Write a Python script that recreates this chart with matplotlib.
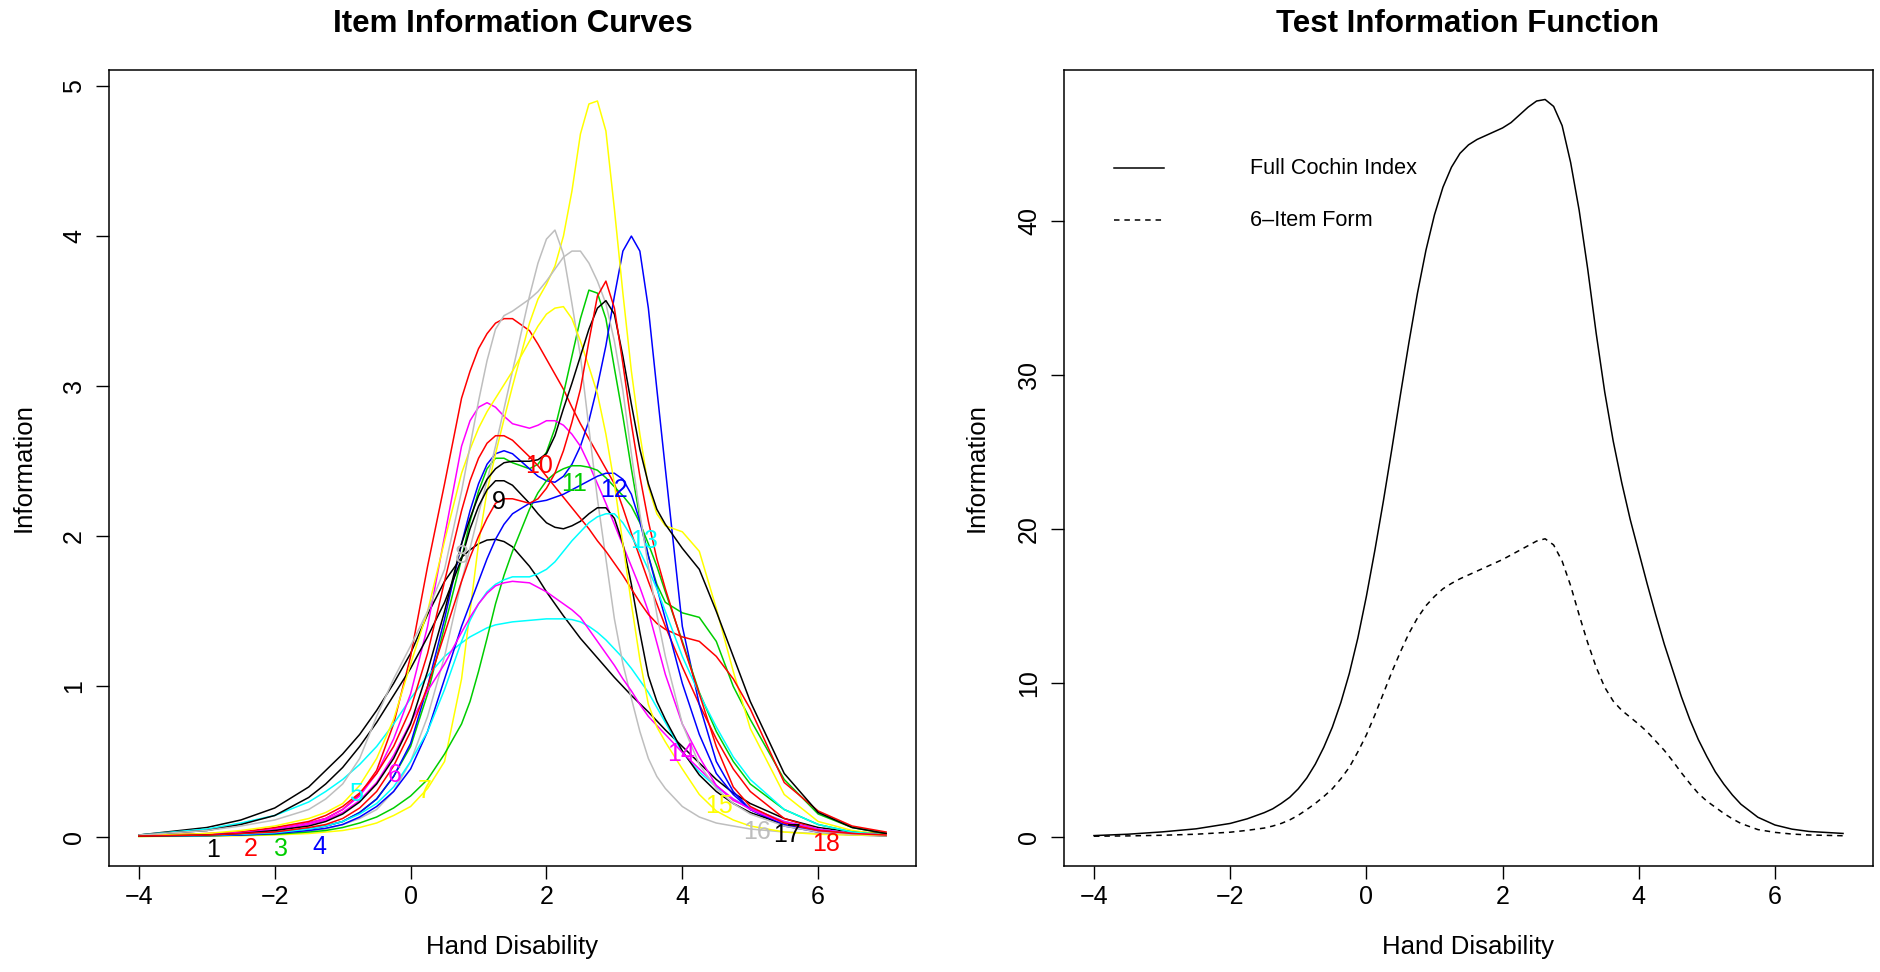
import matplotlib
matplotlib.use("Agg")
import matplotlib.pyplot as plt

plt.rcParams['font.family'] = ['Liberation Sans', 'DejaVu Sans']

# ---------------- data: item information curves ----------------
theta = [-4, -3, -2.5, -2,
         -1.5, -1.25, -1, -0.75, -0.5, -0.25,
         0, 0.25, 0.5, 0.75,
         0.875, 1, 1.125, 1.25, 1.375, 1.5,
         1.75, 1.875, 2, 2.125, 2.25, 2.375, 2.5, 2.625,
         2.75, 2.875, 3, 3.125, 3.25, 3.375, 3.5, 3.625, 3.75,
         4, 4.25, 4.5, 4.75,
         5, 5.5, 6, 6.5, 7]

item01 = [0.01, 0.06, 0.11, 0.19,
          0.33, 0.44, 0.55, 0.68, 0.84, 1.02,
          1.22, 1.48, 1.7, 1.86,
          1.91, 1.95, 1.975, 1.98, 1.965, 1.93,
          1.8, 1.72, 1.63, 1.55, 1.47, 1.395, 1.32, 1.255,
          1.19, 1.125, 1.06, 1.0, 0.94, 0.885, 0.83, 0.77, 0.71,
          0.6, 0.49, 0.38, 0.29,
          0.22, 0.12, 0.06, 0.03, 0.02]
item02 = [0.005, 0.015, 0.03, 0.05,
          0.09, 0.12, 0.18, 0.28, 0.44, 0.75,
          1.2, 1.8, 2.35, 2.92,
          3.1, 3.25, 3.35, 3.42, 3.45, 3.45,
          3.37, 3.28, 3.18, 3.08, 2.98, 2.86, 2.75, 2.65,
          2.55, 2.45, 2.35, 2.19, 2.02, 1.86, 1.7, 1.55, 1.4,
          1.13, 0.88, 0.65, 0.45,
          0.3, 0.12, 0.05, 0.02, 0.01]
item03 = [0.002, 0.01, 0.02, 0.03,
          0.05, 0.07, 0.1, 0.16, 0.25, 0.4,
          0.6, 0.95, 1.4, 1.85,
          2.1, 2.3, 2.45, 2.52, 2.52, 2.49,
          2.45, 2.48, 2.56, 2.72, 2.95, 3.2, 3.45, 3.64,
          3.62, 3.45, 3.12, 2.8, 2.45, 2.12, 1.87, 1.68, 1.56,
          1.49, 1.46, 1.3, 1.0,
          0.78, 0.38, 0.15, 0.06, 0.02]
item04 = [0.002, 0.008, 0.015, 0.025,
          0.05, 0.07, 0.1, 0.16, 0.25, 0.4,
          0.62, 1.0, 1.45, 1.95,
          2.17, 2.35, 2.48, 2.55, 2.57, 2.55,
          2.45, 2.4, 2.37, 2.36, 2.4, 2.48, 2.6, 2.77,
          3.0, 3.27, 3.6, 3.9, 4.0, 3.9, 3.52, 2.98, 2.45,
          1.4, 0.88, 0.5, 0.3,
          0.18, 0.07, 0.03, 0.01, 0.005]
item05 = [0.01, 0.05, 0.09, 0.14,
          0.23, 0.3, 0.38, 0.48, 0.6, 0.75,
          0.92, 1.07, 1.2, 1.29,
          1.33, 1.36, 1.39, 1.41, 1.42, 1.43,
          1.44, 1.445, 1.45, 1.45, 1.45, 1.445, 1.43, 1.4,
          1.36, 1.31, 1.25, 1.19, 1.12, 1.04, 0.96, 0.86, 0.76,
          0.56, 0.43, 0.33, 0.25,
          0.19, 0.1, 0.05, 0.02, 0.01]
item06 = [0.005, 0.015, 0.03, 0.05,
          0.09, 0.12, 0.18, 0.27, 0.42, 0.65,
          0.95, 1.4, 2.0, 2.6,
          2.77, 2.86, 2.89, 2.86, 2.8, 2.75,
          2.72, 2.74, 2.77, 2.77, 2.74, 2.68, 2.6, 2.48,
          2.35, 2.22, 2.08, 1.94, 1.8, 1.66, 1.5, 1.29, 1.08,
          0.75, 0.53, 0.34, 0.24,
          0.19, 0.1, 0.05, 0.02, 0.01]
item07 = [0.0, 0.002, 0.005, 0.01,
          0.02, 0.03, 0.04, 0.06, 0.09, 0.14,
          0.2, 0.32, 0.5, 1.05,
          1.5, 1.95, 2.3, 2.55, 2.78, 3.0,
          3.42, 3.58, 3.68, 3.8, 4.0, 4.3, 4.68, 4.88,
          4.9, 4.7, 4.18, 3.62, 3.1, 2.68, 2.33, 2.15, 2.07,
          2.03, 1.9, 1.52, 1.1,
          0.72, 0.28, 0.1, 0.04, 0.01]
item08 = [0.002, 0.005, 0.01, 0.02,
          0.04, 0.05, 0.08, 0.12, 0.18, 0.3,
          0.5, 0.8, 1.2, 1.7,
          1.92, 2.15, 2.37, 2.6, 2.85, 3.1,
          3.6, 3.82, 3.98, 4.04, 3.88, 3.55, 3.2, 2.72,
          2.25, 1.85, 1.45, 1.15, 0.92, 0.7, 0.52, 0.4, 0.32,
          0.2, 0.13, 0.09, 0.07,
          0.05, 0.03, 0.02, 0.01, 0.01]
item09 = [0.01, 0.04, 0.08, 0.14,
          0.26, 0.35, 0.46, 0.6, 0.76, 0.94,
          1.12, 1.33, 1.56, 1.85,
          2.05, 2.2, 2.31, 2.37, 2.37, 2.34,
          2.22, 2.15, 2.09, 2.06, 2.05, 2.07, 2.1, 2.15,
          2.19, 2.19, 2.12, 1.95, 1.68, 1.36, 1.07, 0.9, 0.78,
          0.57, 0.41, 0.3, 0.22,
          0.16, 0.08, 0.04, 0.02, 0.01]
item10 = [0.005, 0.02, 0.03, 0.06,
          0.1, 0.14, 0.2, 0.29, 0.42, 0.6,
          0.85, 1.22, 1.7, 2.17,
          2.37, 2.52, 2.62, 2.67, 2.67, 2.64,
          2.53, 2.47, 2.4, 2.33, 2.26, 2.19, 2.12, 2.05,
          1.97, 1.9, 1.82, 1.74, 1.65, 1.56, 1.48, 1.42, 1.38,
          1.33, 1.3, 1.2, 1.05,
          0.85, 0.36, 0.17, 0.07, 0.03]
item11 = [0.001, 0.005, 0.01, 0.015,
          0.03, 0.04, 0.06, 0.09, 0.13, 0.19,
          0.27, 0.38, 0.55, 0.75,
          0.9, 1.1, 1.32, 1.55, 1.74, 1.9,
          2.18, 2.29, 2.37, 2.42, 2.45, 2.47, 2.47, 2.46,
          2.44, 2.39, 2.33, 2.27, 2.2, 2.09, 1.95, 1.8, 1.63,
          1.3, 0.96, 0.7, 0.5,
          0.35, 0.18, 0.08, 0.03, 0.01]
item12 = [0.002, 0.006, 0.01, 0.02,
          0.04, 0.055, 0.08, 0.13, 0.2, 0.3,
          0.45, 0.7, 1.05, 1.4,
          1.55, 1.7, 1.85, 1.98, 2.08, 2.15,
          2.22, 2.23, 2.24, 2.26, 2.28, 2.31, 2.34, 2.37,
          2.4, 2.42, 2.42, 2.38, 2.28, 2.1, 1.87, 1.66, 1.45,
          1.02, 0.68, 0.42, 0.28,
          0.18, 0.08, 0.03, 0.015, 0.005]
item13 = [0.002, 0.008, 0.015, 0.025,
          0.05, 0.07, 0.1, 0.15, 0.22, 0.33,
          0.5, 0.7, 0.98, 1.3,
          1.44, 1.55, 1.63, 1.68, 1.71, 1.73,
          1.73, 1.75, 1.78, 1.83, 1.9, 1.97, 2.03, 2.09,
          2.13, 2.15, 2.15, 2.09, 2.0, 1.9, 1.78, 1.65, 1.5,
          1.2, 0.95, 0.73, 0.53,
          0.38, 0.18, 0.08, 0.03, 0.01]
item14 = [0.005, 0.015, 0.025, 0.04,
          0.08, 0.11, 0.16, 0.24, 0.36, 0.54,
          0.76, 0.97, 1.15, 1.36,
          1.46, 1.55, 1.62, 1.67, 1.69, 1.7,
          1.69, 1.66, 1.63, 1.59, 1.55, 1.51, 1.46, 1.38,
          1.3, 1.22, 1.14, 1.05, 0.97, 0.88, 0.8, 0.74, 0.68,
          0.56, 0.45, 0.34, 0.25,
          0.18, 0.09, 0.04, 0.02, 0.01]
item15 = [0.005, 0.02, 0.04, 0.07,
          0.12, 0.16, 0.22, 0.34, 0.52, 0.78,
          1.15, 1.5, 1.97, 2.42,
          2.58, 2.72, 2.83, 2.92, 3.01, 3.1,
          3.3, 3.4, 3.48, 3.52, 3.53, 3.45, 3.3, 3.13,
          2.95, 2.68, 2.35, 1.95, 1.55, 1.18, 0.88, 0.73, 0.63,
          0.45, 0.28, 0.17, 0.11,
          0.07, 0.03, 0.015, 0.01, 0.005]
item16 = [0.01, 0.04, 0.07, 0.11,
          0.18, 0.25, 0.35, 0.52, 0.8, 1.05,
          1.27, 1.5, 1.78, 2.3,
          2.6, 2.9, 3.17, 3.38, 3.47, 3.5,
          3.58, 3.63, 3.7, 3.78, 3.86, 3.9, 3.9, 3.82,
          3.7, 3.55, 3.3, 2.97, 2.55, 2.15, 1.8, 1.48, 1.2,
          0.75, 0.48, 0.32, 0.22,
          0.15, 0.07, 0.03, 0.015, 0.01]
item17 = [0.002, 0.01, 0.02, 0.04,
          0.07, 0.1, 0.15, 0.23, 0.35, 0.52,
          0.75, 1.1, 1.5, 1.95,
          2.12, 2.27, 2.38, 2.45, 2.49, 2.5,
          2.5, 2.51, 2.55, 2.67, 2.85, 3.02, 3.2, 3.38,
          3.52, 3.57, 3.48, 3.2, 2.88, 2.58, 2.35, 2.18, 2.08,
          1.92, 1.78, 1.5, 1.2,
          0.9, 0.42, 0.16, 0.06, 0.02]
item18 = [0.003, 0.01, 0.02, 0.03,
          0.06, 0.08, 0.12, 0.19, 0.3, 0.47,
          0.7, 1.0, 1.35, 1.7,
          1.86, 2.0, 2.12, 2.22, 2.25, 2.25,
          2.22, 2.25, 2.32, 2.42, 2.57, 2.76, 2.98, 3.3,
          3.6, 3.7, 3.52, 3.15, 2.75, 2.4, 2.1, 1.85, 1.65,
          1.29, 0.95, 0.6, 0.33,
          0.2, 0.09, 0.04, 0.02, 0.01]

items = [item01, item02, item03, item04, item05, item06, item07, item08, item09,
         item10, item11, item12, item13, item14, item15, item16, item17, item18]
item_names = [str(i) for i in range(1, 19)]
palette = ['black', '#FF0000', '#00CD00', '#0000FF', '#00FFFF', '#FF00FF', '#FFFF00', '#BEBEBE']

# item number labels (positions)
label_x = [-2.91, -2.35, -1.91, -1.35, -0.80, -0.23, 0.21, 0.76, 1.30,
           1.89, 2.41, 3.00, 3.44, 3.98, 4.54, 5.10, 5.54, 6.12]
label_y = [-0.09, -0.08, -0.08, -0.07, 0.28, 0.41, 0.30, 1.87, 2.23,
           2.47, 2.35, 2.31, 1.97, 0.55, 0.20, 0.03, 0.01, -0.05]

# ---------------- data: test information ----------------
theta_t = [-4, -3.5, -3, -2.5, -2, -1.75,
           -1.5, -1.375, -1.25, -1.125, -1.0, -0.875, -0.75, -0.625, -0.5, -0.375, -0.25, -0.125,
           0, 0.125, 0.25, 0.375, 0.5, 0.625, 0.75, 0.875,
           1, 1.125, 1.25, 1.375, 1.5, 1.625, 1.75, 1.875,
           2, 2.125, 2.25, 2.375, 2.5, 2.625, 2.75, 2.875,
           3, 3.125, 3.25, 3.375, 3.5, 3.625, 3.75, 3.875,
           4, 4.125, 4.25, 4.375, 4.5, 4.625, 4.75, 4.875,
           5, 5.125, 5.25, 5.375, 5.5,
           5.75, 6, 6.25, 6.5, 7]
full_info = [0.06, 0.15, 0.3, 0.5, 0.85, 1.15,
             1.55, 1.8, 2.15, 2.55, 3.1, 3.8, 4.7, 5.8, 7.1, 8.7, 10.6, 12.9,
             15.6, 18.6, 21.8, 25.2, 28.7, 32.1, 35.3, 38.1,
             40.4, 42.2, 43.5, 44.4, 44.95, 45.3, 45.55, 45.8,
             46.05, 46.4, 46.9, 47.4, 47.8, 47.9, 47.45, 46.2,
             43.8, 40.7, 36.9, 32.7, 28.9, 25.7, 23.0, 20.6,
             18.5, 16.4, 14.4, 12.5, 10.8, 9.1, 7.6, 6.3,
             5.2, 4.2, 3.4, 2.7, 2.1,
             1.25, 0.75, 0.48, 0.33, 0.2]
short_info = [0.02, 0.04, 0.08, 0.15, 0.28, 0.4,
              0.55, 0.68, 0.85, 1.08, 1.38, 1.75, 2.15, 2.6, 3.1, 3.75, 4.5, 5.5,
              6.6, 7.9, 9.3, 10.7, 12.0, 13.2, 14.2, 15.0,
              15.6, 16.1, 16.45, 16.75, 17.0, 17.25, 17.5, 17.75,
              18.0, 18.3, 18.6, 18.9, 19.2, 19.35, 18.95, 17.9,
              16.3, 14.4, 12.6, 11.0, 9.7, 8.8, 8.2, 7.75,
              7.3, 6.8, 6.2, 5.6, 4.9, 4.15, 3.45, 2.8,
              2.3, 1.9, 1.5, 1.15, 0.85,
              0.45, 0.27, 0.16, 0.1, 0.05]
legend_labels = ["Full Cochin Index", "6\u2013Item Form"]

# ---------------- figure ----------------
W, H = 1880, 972
fig = plt.figure(figsize=(W / 100, H / 100), dpi=100)
ax1 = fig.add_axes([109 / W, (H - 866) / H, 807 / W, 796 / H])
ax2 = fig.add_axes([1064 / W, (H - 866) / H, 809 / W, 796 / H])

lw = 1.1
dash = (0, (3.6, 3.2))
for i, vals in enumerate(items):
    ax1.plot(theta, vals, color=palette[i % 8], lw=lw, solid_joinstyle='round')
for i in range(len(items)):
    ax1.text(label_x[i], label_y[i], item_names[i], color=palette[i % 8],
             fontsize=18, ha='center', va='center')

ax1.set_xlim(-4.44, 7.44)
ax1.set_ylim(-0.1964, 5.1064)
ax1.set_xticks([-4, -2, 0, 2, 4, 6])
ax1.set_yticks([0, 1, 2, 3, 4, 5])

ax2.plot(theta_t, full_info, color='black', lw=lw, solid_joinstyle='round')
ax2.plot(theta_t, short_info, color='black', lw=lw, linestyle=dash)
ax2.set_xlim(-4.44, 7.44)
ax2.set_ylim(-1.916, 49.816)
ax2.set_xticks([-4, -2, 0, 2, 4, 6])
ax2.set_yticks([0, 10, 20, 30, 40])

# legend drawn in axes coordinates
ly = [(866 - 168) / 796, (866 - 220) / 796]
lx0, lx1, tx = (1114 - 1064) / 809, (1164 - 1064) / 809, (1250 - 1064) / 809
ax2.plot([lx0, lx1], [ly[0], ly[0]], color='black', lw=lw, transform=ax2.transAxes)
ax2.plot([lx0, lx1], [ly[1], ly[1]], color='black', lw=lw, linestyle=dash,
         transform=ax2.transAxes)
for yy, lab in zip(ly, legend_labels):
    ax2.text(tx, yy, lab, transform=ax2.transAxes, fontsize=15.6, ha='left', va='center')

for ax, title, xpos in [(ax1, "Item Information Curves", 512.5),
                        (ax2, "Test Information Function", 1468)]:
    for sp in ax.spines.values():
        sp.set_linewidth(1.1)
    ax.tick_params(axis='both', direction='out', length=9.5, width=1.0,
                   labelsize=18, pad=4)
    ax.tick_params(axis='y', pad=7)
    for t in ax.get_yticklabels():
        t.set_rotation(90)
        t.set_va('center')
        t.set_ha('right')
    ax.set_xlabel("Hand Disability", fontsize=18.5, va='center')
    ax.xaxis.set_label_coords(0.5, (866 - 947) / 796)
    ax.set_ylabel("Information", fontsize=18.5, va='center')
    fig.text(xpos / W, 1 - 24 / H, title, fontsize=22.5, fontweight='bold',
             ha='center', va='center')

ax1.yaxis.set_label_coords((24 - 109) / 807, 0.5)
ax2.yaxis.set_label_coords((977 - 1064) / 809, 0.5)

fig.savefig("out.png", dpi=100)
